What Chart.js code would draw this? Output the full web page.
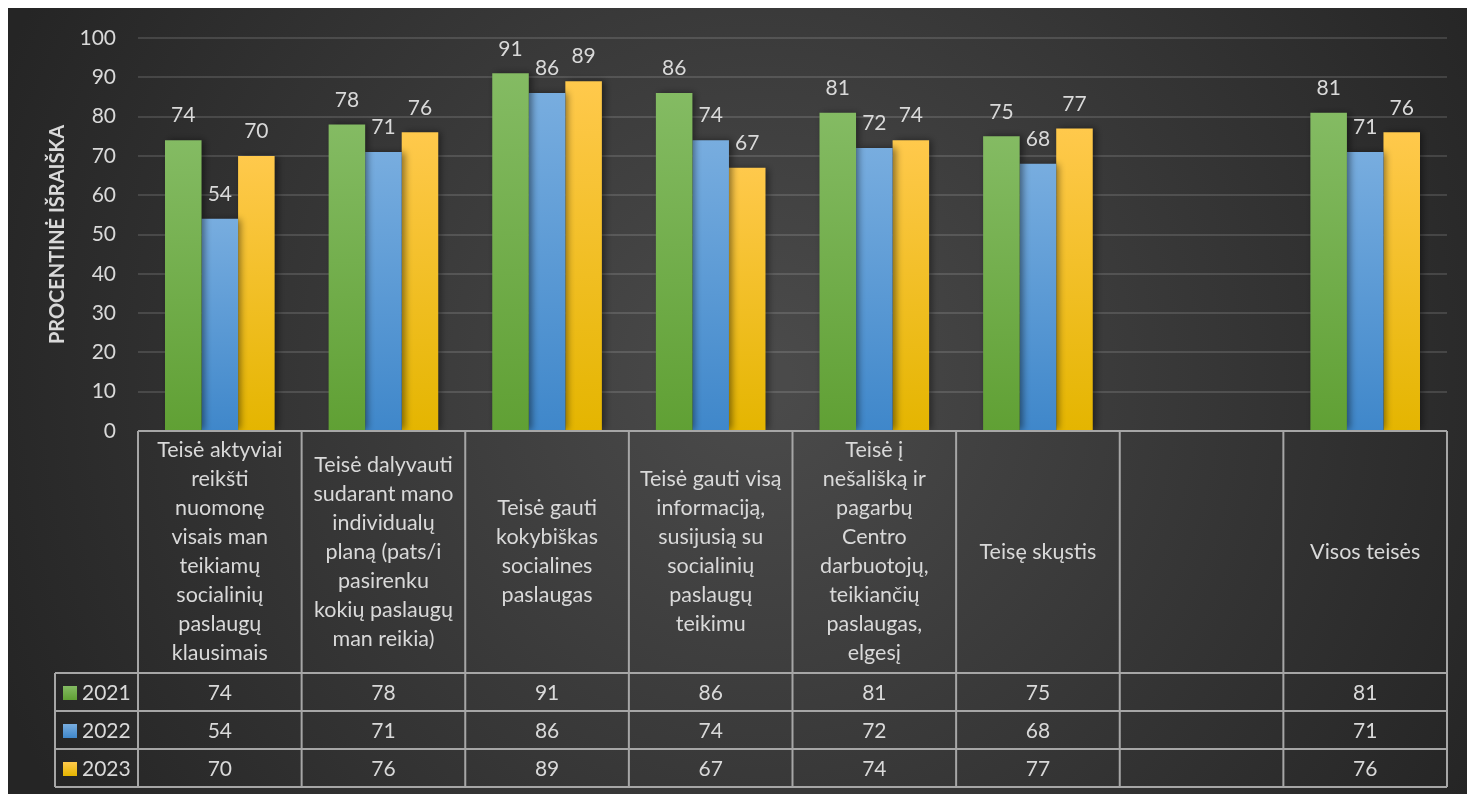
<!DOCTYPE html>
<html>
<head>
<meta charset="utf-8">
<script src="https://cdn.jsdelivr.net/npm/chart.js"></script>
<style>
  html, body { margin: 0; padding: 0; background: #fff; }
  #wrap { position: relative; width: 1467px; height: 794px; }
</style>
</head>
<body>
<div id="wrap"><canvas id="myChart"></canvas></div>
<script>
// data
const categories = [
  ['Teisė aktyviai', 'reikšti', 'nuomonę', 'visais man', 'teikiamų', 'socialinių', 'paslaugų', 'klausimais'],
  ['Teisė dalyvauti', 'sudarant mano', 'individualų', 'planą (pats/i', 'pasirenku', 'kokių paslaugų', 'man reikia)'],
  ['Teisė gauti', 'kokybiškas', 'socialines', 'paslaugas'],
  ['Teisė gauti visą', 'informaciją,', 'susijusią su', 'socialinių', 'paslaugų', 'teikimu'],
  ['Teisė į', 'nešališką ir', 'pagarbų', 'Centro', 'darbuotojų,', 'teikiančių', 'paslaugas,', 'elgesį'],
  ['Teisę skųstis'],
  [''],
  ['Visos teisės']
];
const years = ['2021', '2022', '2023'];
const values2021 = [74, 78, 91, 86, 81, 75, null, 81];
const values2022 = [54, 71, 86, 74, 72, 68, null, 71];
const values2023 = [70, 76, 89, 67, 74, 77, null, 76];
const yTicks = [0, 10, 20, 30, 40, 50, 60, 70, 80, 90, 100];

const FONT = 'Lato, "Open Sans", sans-serif';
const TXT = '#d9d9d9';
const LINE = '#a6a6a6';

// top / bottom colours of each bar gradient
const grads = [
  ['#84bb63', '#60a034'],
  ['#78addf', '#3f87ca'],
  ['#ffc94c', '#e4b500']
];

function barFill(i) {
  return function (ctx) {
    const chart = ctx.chart;
    const area = chart.chartArea;
    if (!area || ctx.raw == null) return grads[i][1];
    const top = chart.scales.y.getPixelForValue(ctx.raw);
    const g = chart.ctx.createLinearGradient(0, top, 0, area.bottom);
    g.addColorStop(0, grads[i][0]);
    g.addColorStop(1, grads[i][1]);
    return g;
  };
}

// dark panel background
const bgPlugin = {
  id: 'bg',
  beforeDraw(chart) {
    const c = chart.ctx;
    c.save();
    c.fillStyle = '#ffffff';
    c.fillRect(0, 0, chart.width, chart.height);
    const g = c.createRadialGradient(760, 380, 30, 760, 380, 820);
    g.addColorStop(0, '#4a4a4a');
    g.addColorStop(1, '#252525');
    c.fillStyle = g;
    c.fillRect(8, 8, chart.width - 8, chart.height - 8);
    c.restore();
  }
};

// shadow under bars
const shadowPlugin = {
  id: 'shadow',
  beforeDatasetsDraw(chart) {
    const c = chart.ctx;
    c.save();
    c.shadowColor = 'rgba(0,0,0,0.45)';
    c.shadowBlur = 7;
    c.shadowOffsetX = 3;
    c.shadowOffsetY = 0;
  },
  afterDatasetsDraw(chart) {
    chart.ctx.restore();
  }
};

// value labels above bars
const labelPlugin = {
  id: 'labels',
  afterDatasetsDraw(chart) {
    const c = chart.ctx;
    c.save();
    c.font = '21px ' + FONT;
    c.fillStyle = TXT;
    c.textAlign = 'center';
    c.textBaseline = 'bottom';
    chart.data.datasets.forEach((ds, di) => {
      chart.getDatasetMeta(di).data.forEach((bar, i) => {
        if (ds.data[i] == null) return;
        c.fillText(ds.data[i], bar.x, bar.y - 14);
      });
    });
    c.restore();
  }
};

// data table under the plot
const tablePlugin = {
  id: 'table',
  afterDraw(chart) {
    const c = chart.ctx;
    const x = chart.scales.x;
    const area = chart.chartArea;
    const n = categories.length;
    const w = (area.right - area.left) / n;
    const top = area.bottom;
    const headBottom = 673;
    const rowH = 38;
    const legLeft = 55;
    const bottom = headBottom + rowH * years.length;

    c.save();
    c.strokeStyle = LINE;
    c.lineWidth = 2;
    // horizontal lines
    c.beginPath();
    c.moveTo(area.left, top); c.lineTo(area.right, top);
    for (let r = 0; r <= years.length; r++) {
      const y = headBottom + r * rowH;
      c.moveTo(legLeft, y); c.lineTo(area.right, y);
    }
    // vertical lines
    for (let i = 0; i <= n; i++) {
      const xx = area.left + i * w;
      c.moveTo(xx, top); c.lineTo(xx, bottom);
    }
    c.moveTo(legLeft, headBottom); c.lineTo(legLeft, bottom);
    c.stroke();

    // header labels
    c.fillStyle = TXT;
    c.textAlign = 'center';
    c.textBaseline = 'middle';
    c.font = '21.5px ' + FONT;
    const lh = 29;
    const midHead = (top + headBottom) / 2;
    categories.forEach((lines, i) => {
      const cx = x.getPixelForValue(i);
      const y0 = midHead - (lines.length - 1) * lh / 2;
      lines.forEach((t, k) => c.fillText(t, cx, y0 + k * lh));
    });

    // rows
    c.font = '21px ' + FONT;
    const rows = [values2021, values2022, values2023];
    rows.forEach((vals, r) => {
      const cy = headBottom + r * rowH + rowH / 2 + 1;
      const sq = c.createLinearGradient(0, cy - 7, 0, cy + 7);
      sq.addColorStop(0, grads[r][0]);
      sq.addColorStop(1, grads[r][1]);
      c.fillStyle = sq;
      c.fillRect(63, cy - 7, 14, 14);
      c.fillStyle = TXT;
      c.textAlign = 'left';
      c.fillText(years[r], 82, cy);
      c.textAlign = 'center';
      vals.forEach((v, i) => {
        if (v == null) return;
        c.fillText(v, x.getPixelForValue(i), cy);
      });
    });
    c.restore();
  }
};

const data = {
  labels: categories.map(l => l.join(' ')),
  datasets: years.map((yr, i) => ({
    label: yr,
    data: [values2021, values2022, values2023][i],
    backgroundColor: barFill(i),
    borderWidth: 0,
    barPercentage: 1,
    categoryPercentage: 0.67
  }))
};

const config = {
  type: 'bar',
  data,
  options: {
    responsive: true,
    maintainAspectRatio: false,
    animation: false,
    layout: { padding: { top: 38, left: 8, right: 20, bottom: 363 } },
    plugins: {
      legend: { display: false },
      tooltip: { enabled: false }
    },
    scales: {
      x: { display: false },
      y: {
        min: 0,
        max: 100,
        afterBuildTicks(scale) { scale.ticks = yTicks.map(v => ({ value: v })); },
        afterFit(scale) {
          scale.width = 130;
          scale.paddingTop = 0;
          scale.paddingBottom = 0;
        },
        border: { display: false },
        grid: { color: 'rgba(255,255,255,0.13)', lineWidth: 2, drawTicks: false },
        ticks: { color: TXT, font: { family: FONT, size: 21 }, padding: 22 },
        title: {
          display: true,
          text: 'PROCENTINĖ IŠRAIŠKA',
          color: TXT,
          font: { family: FONT, size: 20, weight: 'bold' },
          padding: { top: 38, bottom: 0 }
        }
      }
    }
  },
  plugins: [bgPlugin, shadowPlugin, labelPlugin, tablePlugin]
};

const myChart = new Chart(document.getElementById('myChart'), config);
</script>
</body>
</html>
